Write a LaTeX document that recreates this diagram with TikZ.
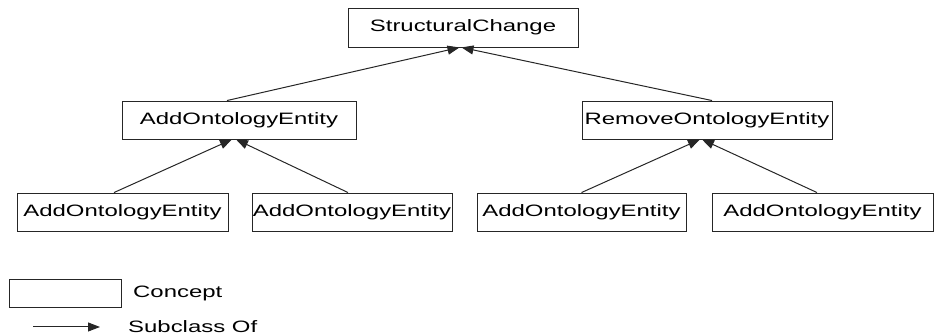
\documentclass[tikz,border=0pt]{standalone}
\usepackage{fontspec}
\setmainfont{Liberation Sans}[FakeStretch=1.45]
\usetikzlibrary{arrows.meta}

\begin{document}
\begin{tikzpicture}[x=1pt,y=1pt,
  concept/.style={draw=black!85,line width=0.9pt,inner sep=0pt,minimum height=38pt,
    font=\fontsize{16.5}{18}\selectfont},
  label/.style={inner sep=0pt,anchor=west,font=\fontsize{16.5}{18}\selectfont},
  subclass/.style={-{Triangle[length=12pt,width=9pt]},line width=1pt,black!85}]

\useasboundingbox (0,0) rectangle (935,336);

\node [concept,minimum width=230pt,minimum height=39pt] (top) at (463,308.5) {StructuralChange};

\node [concept,minimum width=234pt] (addE) at (239,216) {AddOntologyEntity};
\node [concept,minimum width=250pt] (remE) at (707,216) {RemoveOntologyEntity};

\node [concept,minimum width=211pt] (addA) at (122.5,124) {AddOntologyEntity};
\node [concept,minimum width=200pt] (addB) at (352,124) {AddOntologyEntity};
\node [concept,minimum width=209pt] (addC) at (581.5,124) {AddOntologyEntity};
\node [concept,minimum width=221pt] (addD) at (822.5,124) {AddOntologyEntity};

\draw [subclass] ([xshift=-12pt]addE.north) -- ([xshift=-3.5pt]top.south);
\draw [subclass] ([xshift=5pt]remE.north) -- ([xshift=-1.5pt]top.south);

\draw [subclass] ([xshift=-8.5pt]addA.north) -- ([xshift=-7pt]addE.south);
\draw [subclass] ([xshift=-4pt]addB.north) -- ([xshift=-3pt]addE.south);
\draw [subclass] (addC.north) -- ([xshift=-7pt]remE.south);
\draw [subclass] ([xshift=-5.5pt]addD.north) -- ([xshift=-5pt]remE.south);

\node [concept,minimum width=112pt,minimum height=28pt] (legBox) at (65,43) {};
\node [label] (legConcept) at (133,43) {Concept};

\coordinate (legA) at (33,9);
\coordinate (legB) at (100,9);
\draw [subclass] (legA) -- (legB);
\node [label] (legSub) at (128,9) {Subclass Of};

\end{tikzpicture}
\end{document}
